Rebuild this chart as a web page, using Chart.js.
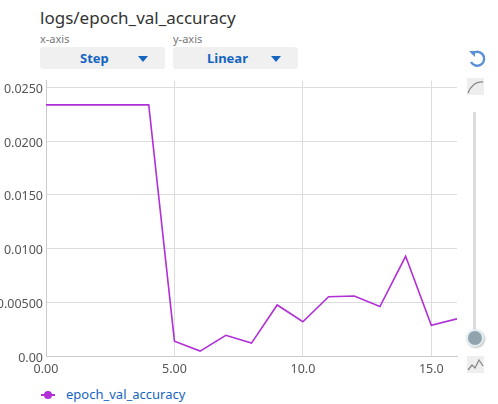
<!DOCTYPE html>
<html>
<head>
<meta charset="utf-8">
<script src="https://cdn.jsdelivr.net/npm/chart.js@4"></script>
<style>
  html,body{margin:0;padding:0;background:#fff;width:498px;height:404px;overflow:hidden;font-family:"Noto Sans","Open Sans",sans-serif;}
  #title{position:absolute;left:40px;top:6px;font-size:17px;color:#333;}
  .axlab{position:absolute;top:31px;font-size:11px;color:#777;}
  .dd{position:absolute;top:47px;width:125px;height:22px;background:#f0f0f0;border-radius:3px;}
  .dd span{position:absolute;top:2px;font-size:13px;font-weight:bold;color:#1565c0;}
  .dd i{position:absolute;right:17px;top:9px;width:0;height:0;border-left:5px solid transparent;border-right:5px solid transparent;border-top:6px solid #1565c0;}
  #wrap{position:absolute;left:0;top:70px;width:470px;height:310px;}
  #legend{position:absolute;left:41px;top:385px;font-size:13px;color:#1565c0;}
  #legend .ln{position:absolute;left:0;top:9px;width:14px;height:2px;background:#b12fd6;}
  #legend .dt{position:absolute;left:3px;top:6px;width:8px;height:8px;border-radius:50%;background:#b12fd6;}
  #legend .tx{position:absolute;left:25px;top:0;white-space:nowrap;}
  svg{position:absolute;}
</style>
</head>
<body>
<div id="title">logs/epoch_val_accuracy</div>
<div class="axlab" style="left:40px">x-axis</div>
<div class="axlab" style="left:173px">y-axis</div>
<div class="dd" style="left:40px"><span style="left:40px">Step</span><i></i></div>
<div class="dd" style="left:173px"><span style="left:34px">Linear</span><i></i></div>

<svg style="left:466px;top:48px" width="22" height="22" viewBox="0 0 22 22">
  <path d="M6 6 A7 7 0 1 1 5 14" fill="none" stroke="#5b8fd6" stroke-width="2.4"/>
  <path d="M3 3 L9 3 L9 9 Z" fill="#5b8fd6"/>
</svg>
<svg style="left:467px;top:78px" width="17" height="17">
  <rect x="0" y="0" width="17" height="17" fill="#eeeeee"/>
  <path d="M1 15 Q6 3 16 4" fill="none" stroke="#888" stroke-width="1.3"/>
</svg>
<div style="position:absolute;left:473px;top:112px;width:3px;height:225px;background:#dcdcdc;"></div>
<div style="position:absolute;left:466px;top:329px;width:14px;height:14px;border-radius:50%;background:#90a4ae;border:2px solid #e3eef2;box-shadow:1px 1px 2px rgba(0,0,0,0.25);"></div>
<svg style="left:467px;top:356px" width="17" height="17">
  <rect x="0" y="0" width="17" height="17" fill="#eeeeee"/>
  <path d="M1 14 L5 9 L8 12 L12 4 L16 10" fill="none" stroke="#888" stroke-width="1.3"/>
</svg>

<div id="wrap"><canvas id="c"></canvas></div>
<div id="legend"><div class="ln"></div><div class="dt"></div><div class="tx">epoch_val_accuracy</div></div>

<script>
const seriesName = "epoch_val_accuracy";
const steps = [0,1,2,3,4,5,6,7,8,9,10,11,12,13,14,15,16];
const accuracy = [0.02337,0.02337,0.02337,0.02337,0.02337,0.00138,0.00046,0.00193,0.0012,0.00475,0.00319,0.00551,0.00558,0.0046,0.00928,0.00285,0.00346];
const xTickValues = [0,5,10,15];
const xTickLabels = ["0.00","5.00","10.0","15.0"];
const yTickValues = [0,0.005,0.01,0.015,0.02,0.025];
const yTickLabels = ["0.00","0.00500","0.0100","0.0150","0.0200","0.0250"];

const tickFont = {family:"'Noto Sans','Open Sans',sans-serif", size:12.5};
new Chart(document.getElementById('c'), {
  type:'line',
  data:{
    datasets:[{
      label:seriesName,
      data:steps.map((s,i)=>({x:s,y:accuracy[i]})),
      borderColor:'#b12fd6',
      borderWidth:1.6,
      pointRadius:0,
      tension:0,
      fill:false
    }]
  },
  options:{
    responsive:true,
    maintainAspectRatio:false,
    animation:false,
    layout:{padding:{top:7,right:13,left:0,bottom:0}},
    plugins:{legend:{display:false},tooltip:{enabled:false}},
    scales:{
      x:{
        type:'linear', min:0, max:16,
        afterBuildTicks:(ax)=>{ax.ticks = xTickValues.map(v=>({value:v}));},
        ticks:{color:'#555', font:tickFont, padding:6, maxRotation:0,
          callback:(v)=>{const i=xTickValues.indexOf(v);return i>=0?xTickLabels[i]:'';}},
        grid:{color:'#dddddd', drawTicks:false},
        border:{color:'#cccccc'},
        afterFit:(ax)=>{ax.height=24;}
      },
      y:{
        type:'linear', min:0, max:0.02564,
        afterBuildTicks:(ax)=>{ax.ticks = yTickValues.map(v=>({value:v}));},
        ticks:{color:'#555', font:tickFont, padding:3, labelOffset:2,
          callback:(v)=>{const i=yTickValues.findIndex(t=>Math.abs(t-v)<1e-9);return i>=0?yTickLabels[i]:'';}},
        grid:{color:'#dddddd', drawTicks:false},
        border:{color:'#cccccc'},
        afterFit:(ax)=>{ax.width=46;}
      }
    }
  }
});
</script>
</body>
</html>
